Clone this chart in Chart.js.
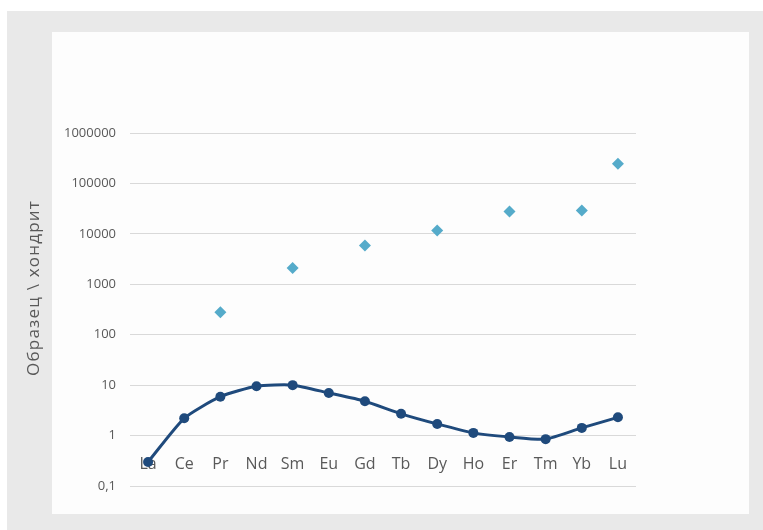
<!DOCTYPE html>
<html>
<head>
<meta charset="utf-8">
<script src="https://cdn.jsdelivr.net/npm/chart.js@4"></script>
<style>
  html, body { margin: 0; padding: 0; background: #ffffff; }
  #frame { position: absolute; left: 7px; top: 11px; width: 756px; height: 519px; background: #e9e9e9; }
  #panel { position: absolute; left: 52px; top: 32px; width: 697px; height: 482px; background: #fdfdfd; }
  #chart { position: absolute; left: 0; top: 0; }
</style>
</head>
<body>
<div id="frame"></div>
<div id="panel"></div>
<canvas id="chart" width="763" height="530"></canvas>
<script>
// Rare earth elements along the category axis
const elements = ['La', 'Ce', 'Pr', 'Nd', 'Sm', 'Eu', 'Gd', 'Tb', 'Dy', 'Ho', 'Er', 'Tm', 'Yb', 'Lu'];

// Chondrite-normalised sample pattern (connected line)
const sampleRatio = [0.3, 2.2, 5.9, 9.5, 10.0, 7.0, 4.8, 2.7, 1.7, 1.13, 0.94, 0.85, 1.42, 2.3];

// Second set of ratios, shown as separate markers only
const markerRatio = [null, null, 280, null, 2100, null, 5900, null, 11700, null, 27800, null, 29100, 246000];

// Decade ticks of the logarithmic value axis and their printed labels
const yTickValues = [0.1, 1, 10, 100, 1000, 10000, 100000, 1000000];
const yTickLabels = ['0,1', '1', '10', '100', '1000', '10000', '100000', '1000000'];

const yTitle = 'Образец \\ хондрит';

const textColor = '#595959';
const fontFamily = "'Open Sans', 'Liberation Sans', sans-serif";

// Rotated value-axis title, centred on the plot panel
const axisTitlePlugin = {
  id: 'axisTitle',
  afterDraw(chart) {
    const { ctx, chartArea } = chart;
    ctx.save();
    ctx.translate(chartArea.left - 96, chartArea.top + 155);
    ctx.rotate(-Math.PI / 2);
    ctx.font = '17px ' + fontFamily;
    ctx.letterSpacing = '1.2px';
    ctx.fillStyle = textColor;
    ctx.textAlign = 'center';
    ctx.textBaseline = 'middle';
    ctx.fillText(yTitle, 0, 0);
    ctx.restore();
  }
};

new Chart(document.getElementById('chart'), {
  type: 'line',
  data: {
    labels: elements,
    datasets: [
      {
        data: sampleRatio,
        borderColor: '#1f4a7c',
        backgroundColor: '#1f4a7c',
        borderWidth: 3,
        tension: 0.2,
        pointRadius: 5,
        pointHoverRadius: 5,
        pointBorderWidth: 0
      },
      {
        data: markerRatio,
        showLine: false,
        pointStyle: 'rectRot',
        pointRadius: 6,
        pointHoverRadius: 6,
        pointBorderWidth: 0,
        backgroundColor: '#55abca',
        borderColor: '#55abca'
      }
    ]
  },
  options: {
    responsive: false,
    animation: false,
    events: [],
    layout: { padding: { left: 20, top: 133, right: 127, bottom: 44 } },
    plugins: { legend: { display: false }, tooltip: { enabled: false } },
    scales: {
      x: {
        type: 'category',
        position: { y: 1 },
        offset: true,
        grid: { display: false, drawTicks: false },
        border: { display: false },
        ticks: {
          color: textColor,
          font: { family: fontFamily, size: 16 },
          padding: 19,
          autoSkip: false,
          maxRotation: 0
        }
      },
      y: {
        type: 'logarithmic',
        min: 0.1,
        max: 1000000,
        afterBuildTicks(scale) {
          scale.ticks = yTickValues.map(v => ({ value: v }));
        },
        afterFit(scale) {
          scale.width = 110;
        },
        grid: { color: '#d9d9d9', lineWidth: 1, drawTicks: false },
        border: { display: false },
        ticks: {
          color: textColor,
          font: { family: fontFamily, size: 13 },
          padding: 14,
          callback: (value, index) => yTickLabels[index]
        }
      }
    }
  },
  plugins: [axisTitlePlugin]
});
</script>
</body>
</html>
